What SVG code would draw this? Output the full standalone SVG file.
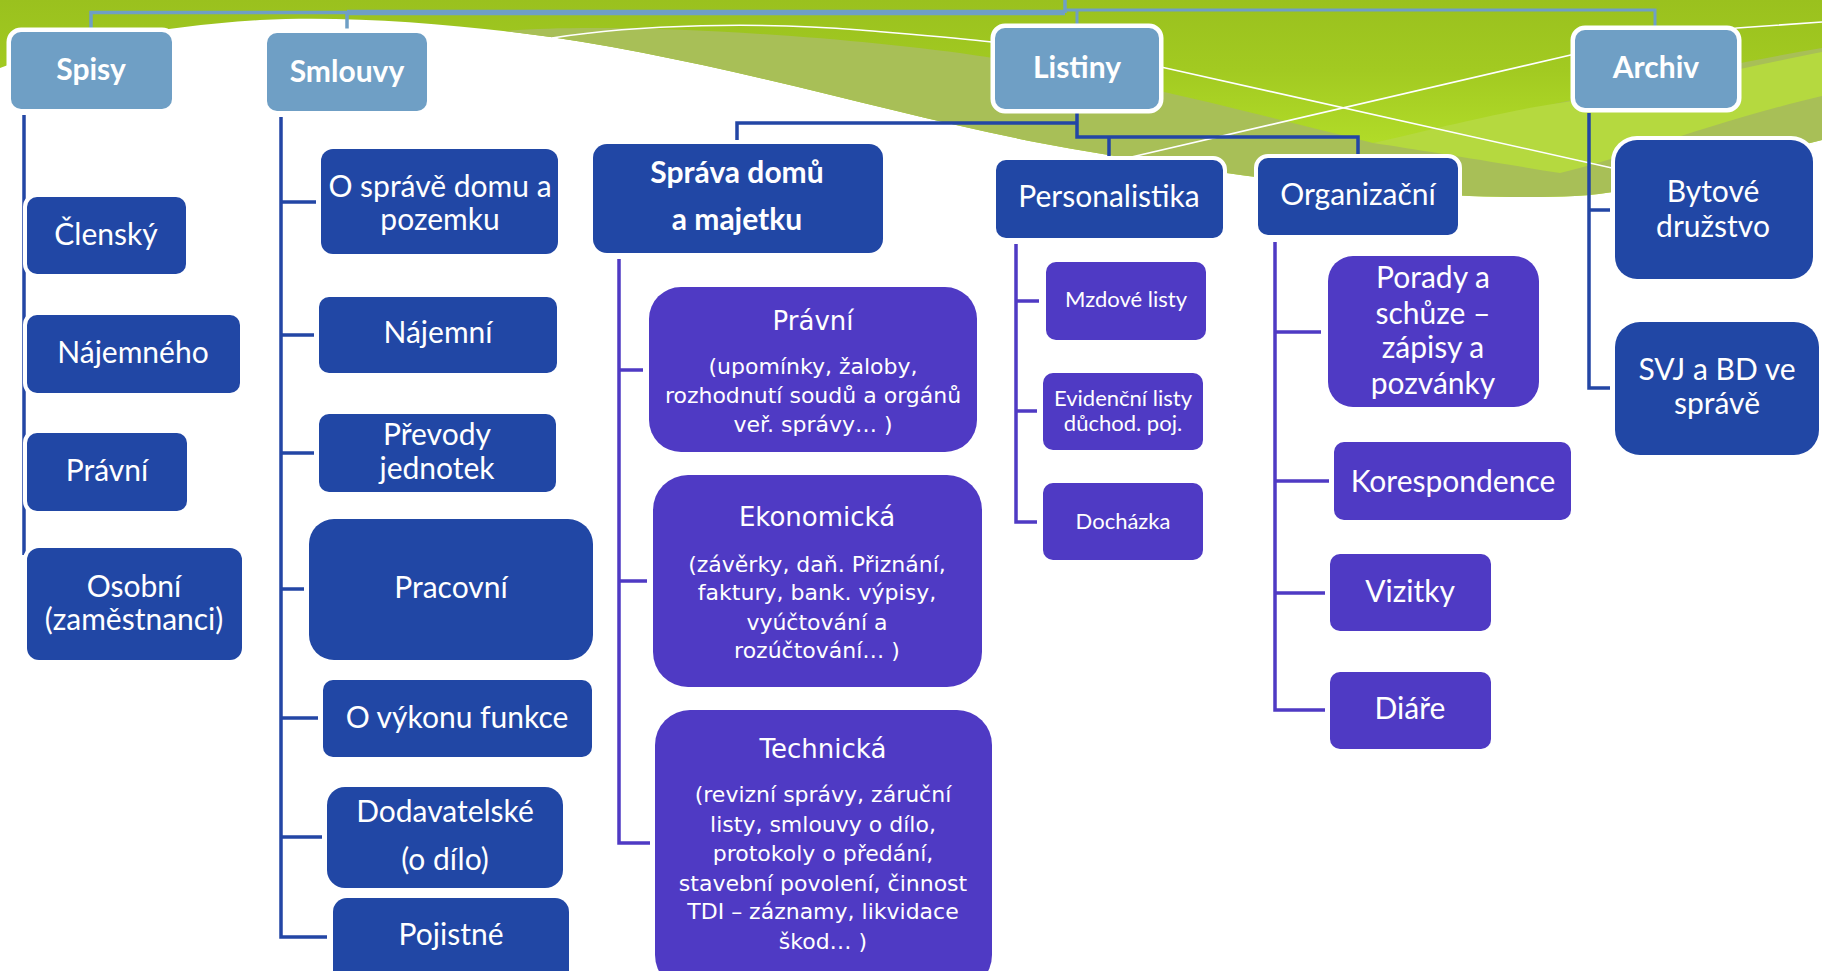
<svg xmlns="http://www.w3.org/2000/svg" width="1822" height="971" viewBox="0 0 1822 971">
<defs>
<linearGradient id="gGreen" x1="0" y1="0" x2="0" y2="200" gradientUnits="userSpaceOnUse">
<stop offset="0" stop-color="#9ac11e"/>
<stop offset="0.35" stop-color="#a2ca21"/>
<stop offset="1" stop-color="#bde92e"/>
</linearGradient>
<style>
.top{fill:#6f9fc5;stroke:#fff;stroke-width:9;paint-order:stroke}
.dk{fill:#2147a5;stroke:#fff;stroke-width:8;paint-order:stroke}
.pu{fill:#4f3ac4;stroke:#fff;stroke-width:8;paint-order:stroke}
text{fill:#fff;text-anchor:middle;font-family:Lato,"Liberation Sans",sans-serif}
.tb{font-weight:bold;font-size:30px}
.t{font-size:30px}
.ts{font-size:22px}
.dj{font-family:"DejaVu Sans","Liberation Sans",sans-serif}
.dt{font-size:26px}
.db{font-size:22px}
.cs{fill:none;stroke:#6f9fc5;stroke-width:3.5}
.cd{fill:none;stroke:#2346a5;stroke-width:3.5}
.cp{fill:none;stroke:#4f3ac4;stroke-width:3.5}
.wl{fill:none;stroke:#fff;stroke-width:1.6}
</style>
</defs>
<rect width="1822" height="971" fill="#fff"/>
<g id="background">
<path d="M0,0 H1822 V140 C1740,160 1650,192 1575,196 C1450,202 1250,182 1040,143 C880,112 700,55 520,33 C430,22 340,16 260,20 C160,26 60,45 0,68 Z" fill="url(#gGreen)"/>
<path d="M505,31 C620,22 840,35 987,57 C1120,78 1260,115 1373,143 C1500,120 1660,75 1822,48 V140 C1740,160 1650,192 1575,196 C1450,202 1250,182 1040,143 C880,112 700,55 520,33 Z" fill="#a8bf57"/>
<path d="M1373,143 C1450,125 1510,110 1560,103 C1680,84 1760,64 1822,52 V96 C1700,125 1620,160 1560,173 C1480,160 1420,150 1373,143 Z" fill="#b5d93f"/>
<path class="wl" d="M552,38 C640,24 760,22 860,30 C920,35 960,38 992,42 L1161,67 L1612,168"/>
<path class="wl" d="M1110,162 L1575,54 L1737,28 L1822,22"/>
</g>
<g id="connectors">
<path class="cs" d="M91,32 V12.5 H347 V33"/>
<path class="cs" d="M347,12.5 H1065" style="stroke-width:5.5"/>
<path class="cs" d="M1065,0 V13"/>
<path class="cs" style="stroke-width:3" d="M1065,10 H1655 V30 M1077,10 V28"/>
<path class="cd" d="M1077,110 V137 H1358 V158 M1077,123 H737 V144 M1109,137 V160"/>
<path class="cd" d="M24,115 V555"/>
<path class="cd" d="M281,117 V937 H327 M281,202 H316 M281,335 H314 M281,453 H314 M281,589 H304 M281,718 H318 M281,837 H322"/>
<path class="cd" d="M1589,113 V388 H1610 M1589,210 H1610"/>
<path class="cp" d="M619,259 V843 H650 M619,370 H643 M619,581 H647"/>
<path class="cp" d="M1016,244 V522 H1037 M1016,301 H1039 M1016,411 H1037"/>
<path class="cp" d="M1275,242 V710 H1325 M1275,332 H1321 M1275,481 H1329 M1275,593 H1325"/>
</g>
<g id="spisy"><rect class="top" x="11" y="32" width="161" height="77" rx="10"/><text class="tb" x="91" y="80">Spisy</text></g>
<g id="smlouvy"><rect class="top" x="267" y="33" width="160" height="78" rx="10"/><text class="tb" x="347" y="82">Smlouvy</text></g>
<g id="listiny"><rect class="top" x="995" y="28" width="164" height="81" rx="10"/><text class="tb" x="1077" y="78">Listiny</text></g>
<g id="archiv"><rect class="top" x="1575" y="30" width="162" height="78" rx="10"/><text class="tb" x="1656" y="78">Archiv</text></g>

<g id="clensky"><rect class="dk" x="27" y="197" width="159" height="77" rx="10"/><text class="t" x="106" y="245">Členský</text></g>
<g id="najemneho"><rect class="dk" x="27" y="315" width="213" height="78" rx="10"/><text class="t" x="133" y="363">Nájemného</text></g>
<g id="pravni-spisy"><rect class="dk" x="27" y="433" width="160" height="78" rx="10"/><text class="t" x="107" y="481">Právní</text></g>
<g id="osobni"><rect class="dk" x="27" y="548" width="215" height="112" rx="12"/><text class="t" x="134" y="597">Osobní</text><text class="t" x="134" y="630">(zaměstnanci)</text></g>

<g id="o-sprave"><rect class="dk" x="321" y="149" width="237" height="105" rx="12"/><text class="t" x="440" y="197">O správě domu a</text><text class="t" x="440" y="230">pozemku</text></g>
<g id="najemni"><rect class="dk" x="319" y="297" width="238" height="76" rx="10"/><text class="t" x="438" y="343">Nájemní</text></g>
<g id="prevody"><rect class="dk" x="319" y="414" width="237" height="78" rx="10"/><text class="t" x="437" y="445">Převody</text><text class="t" x="437" y="479">jednotek</text></g>
<g id="pracovni"><rect class="dk" x="309" y="519" width="284" height="141" rx="25"/><text class="t" x="451" y="598">Pracovní</text></g>
<g id="o-vykonu"><rect class="dk" x="323" y="680" width="269" height="77" rx="10"/><text class="t" x="457" y="728">O výkonu funkce</text></g>
<g id="dodavatelske"><rect class="dk" x="327" y="787" width="236" height="101" rx="18"/><text class="t" x="445" y="822">Dodavatelské</text><text class="t" x="445" y="870">(o dílo)</text></g>
<g id="pojistne"><rect class="dk" x="333" y="898" width="236" height="90" rx="14"/><text class="t" x="451" y="945">Pojistné</text></g>

<g id="sprava"><rect class="dk" x="593" y="144" width="290" height="109" rx="14"/><text class="tb" x="737" y="183">Správa domů</text><text class="tb" x="737" y="230">a majetku</text></g>

<g id="pravni-sprava" class="dj"><rect class="pu" x="649" y="287" width="328" height="165" rx="32"/><text class="dj dt" x="813" y="330">Právní</text><text class="dj db" x="813" y="374">(upomínky, žaloby,</text><text class="dj db" x="813" y="403">rozhodnutí soudů a orgánů</text><text class="dj db" x="813" y="432">veř. správy… )</text></g>
<g id="ekonomicka"><rect class="pu" x="653" y="475" width="329" height="212" rx="35"/><text class="dj dt" x="817" y="526">Ekonomická</text><text class="dj db" x="817" y="572">(závěrky, daň. Přiznání,</text><text class="dj db" x="817" y="600">faktury, bank. výpisy,</text><text class="dj db" x="817" y="630">vyúčtování a</text><text class="dj db" x="817" y="658">rozúčtování… )</text></g>
<g id="technicka"><rect class="pu" x="655" y="710" width="337" height="280" rx="35"/><text class="dj dt" x="823" y="758">Technická</text><text class="dj db" x="823" y="802">(revizní správy, záruční</text><text class="dj db" x="823" y="832">listy, smlouvy o dílo,</text><text class="dj db" x="823" y="861">protokoly o předání,</text><text class="dj db" x="823" y="891">stavební povolení, činnost</text><text class="dj db" x="823" y="919">TDI – záznamy, likvidace</text><text class="dj db" x="823" y="949">škod… )</text></g>

<g id="personalistika"><rect class="dk" x="996" y="160" width="227" height="78" rx="10"/><text class="t" x="1109" y="207">Personalistika</text></g>
<g id="organizacni"><rect class="dk" x="1258" y="158" width="200" height="77" rx="10"/><text class="t" x="1358" y="205">Organizační</text></g>
<g id="mzdove"><rect class="pu" x="1046" y="262" width="160" height="78" rx="10"/><text class="ts" x="1126" y="307">Mzdové listy</text></g>
<g id="evidencni"><rect class="pu" x="1043" y="373" width="160" height="77" rx="10"/><text class="ts" x="1123" y="406">Evidenční listy</text><text class="ts" x="1123" y="431">důchod. poj.</text></g>
<g id="dochazka"><rect class="pu" x="1043" y="483" width="160" height="77" rx="10"/><text class="ts" x="1123" y="529">Docházka</text></g>
<g id="porady"><rect class="pu" x="1328" y="256" width="211" height="151" rx="25"/><text class="t" x="1433" y="288">Porady a</text><text class="t" x="1433" y="324">schůze –</text><text class="t" x="1433" y="358">zápisy a</text><text class="t" x="1433" y="394">pozvánky</text></g>
<g id="korespondence"><rect class="pu" x="1334" y="442" width="237" height="78" rx="10"/><text class="t" x="1453" y="492">Korespondence</text></g>
<g id="vizitky"><rect class="pu" x="1330" y="554" width="161" height="77" rx="10"/><text class="t" x="1410" y="602">Vizitky</text></g>
<g id="diare"><rect class="pu" x="1330" y="672" width="161" height="77" rx="10"/><text class="t" x="1410" y="719">Diáře</text></g>

<g id="bytove"><rect class="dk" x="1615" y="140" width="198" height="139" rx="22"/><text class="t" x="1713" y="202">Bytové</text><text class="t" x="1713" y="237">družstvo</text></g>
<g id="svj"><rect class="dk" x="1615" y="322" width="204" height="133" rx="25"/><text class="t" x="1717" y="380">SVJ a BD ve</text><text class="t" x="1717" y="414">správě</text></g>
</svg>
